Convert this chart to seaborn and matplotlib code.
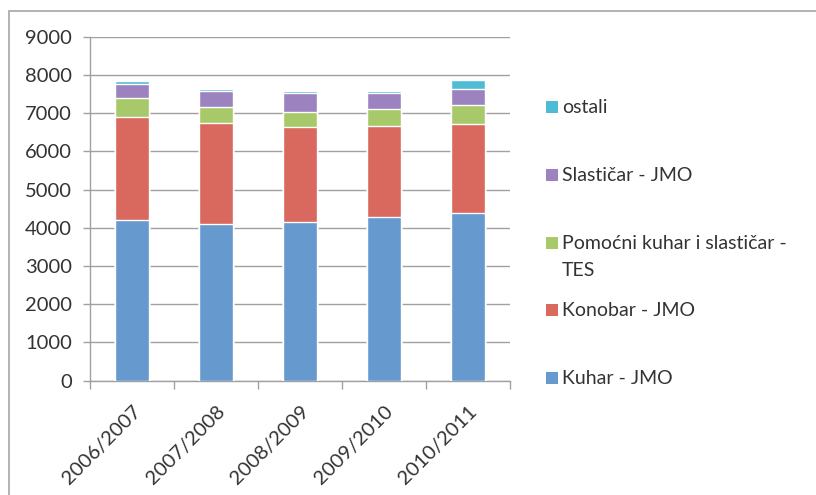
import matplotlib
matplotlib.use("Agg")
import matplotlib.pyplot as plt
import matplotlib.patches as mpatches
import numpy as np
import pandas as pd
import seaborn as sns

years = ["2006/2007", "2007/2008", "2008/2009", "2009/2010", "2010/2011"]
kuhar = [4210, 4100, 4160, 4290, 4390]
konobar = [2700, 2650, 2470, 2370, 2320]
pomocni = [480, 420, 410, 460, 515]
slasticar = [380, 410, 480, 410, 400]
ostali = [70, 45, 60, 60, 235]

series_names = ["Kuhar - JMO", "Konobar - JMO", "Pomoćni kuhar i slastičar -\nTES",
                "Slastičar - JMO", "ostali"]
colors = ["#669ACF", "#D9685F", "#A8C96A", "#9C83BF", "#4FBCD6"]

sns.set_theme(style="white")
plt.rcParams["font.family"] = ["Lato", "DejaVu Sans"]

W, H = 816, 495
fig = plt.figure(figsize=(W / 100, H / 100), dpi=100)

# chart frame
fig.patches.append(mpatches.Rectangle((9 / W, -0.1), 1.2, (H - 11) / H + 0.1,
                                      transform=fig.transFigure, fill=False,
                                      edgecolor="#A6A6A6", linewidth=1.2))

ax = fig.add_axes([90 / W, (H - 380.7) / H, 420 / W, 344 / H])

data = np.array([kuhar, konobar, pomocni, slasticar, ostali], dtype=float)
cum = np.cumsum(data, axis=0)

for i in range(len(series_names) - 1, -1, -1):
    df = pd.DataFrame({"year": years, "value": cum[i]})
    sns.barplot(data=df, x="year", y="value", color=colors[i], width=0.4,
                saturation=1, ax=ax, zorder=3)

ax.set_ylim(0, 9000)
ax.set_xlim(-0.5, 4.5)
ax.set_yticks(np.arange(0, 9001, 1000))
ax.yaxis.grid(True, color="#A0A0A0", linewidth=1.0, zorder=0)
ax.set_axisbelow(True)
ax.set_xlabel("")
ax.set_ylabel("")
for s in ["top", "right"]:
    ax.spines[s].set_visible(False)
for s in ["left", "bottom"]:
    ax.spines[s].set_color("#A0A0A0")
    ax.spines[s].set_linewidth(1.0)

ax.tick_params(axis="y", labelsize=14.5, colors="#A0A0A0", labelcolor="#333333",
               length=5, width=1, left=True, pad=8)
# x ticks at category boundaries
ax.set_xticks(np.arange(-0.5, 5, 1), minor=True)
ax.tick_params(axis="x", which="minor", length=6, width=1, colors="#A0A0A0", bottom=True)
ax.set_xticks(range(len(years)))
ax.set_xticklabels(years, rotation=45, ha="right", rotation_mode="anchor")
ax.tick_params(axis="x", which="major", length=0, labelsize=14.5, labelcolor="#333333", pad=16)

# legend (manual, Excel-style spacing)
leg_y = [107, 175, 243, 310, 378]
for name, col, y in zip(series_names[::-1], colors[::-1], leg_y):
    fig.patches.append(mpatches.Rectangle((546 / W, (H - y - 6) / H), 12 / W, 12 / H,
                                          transform=fig.transFigure, facecolor=col,
                                          edgecolor="none"))
    fig.text(562 / W, (H - y + 8) / H, name, fontsize=14, color="#333333",
             va="top", ha="left", linespacing=1.75)

fig.savefig("out.png", dpi=100)
